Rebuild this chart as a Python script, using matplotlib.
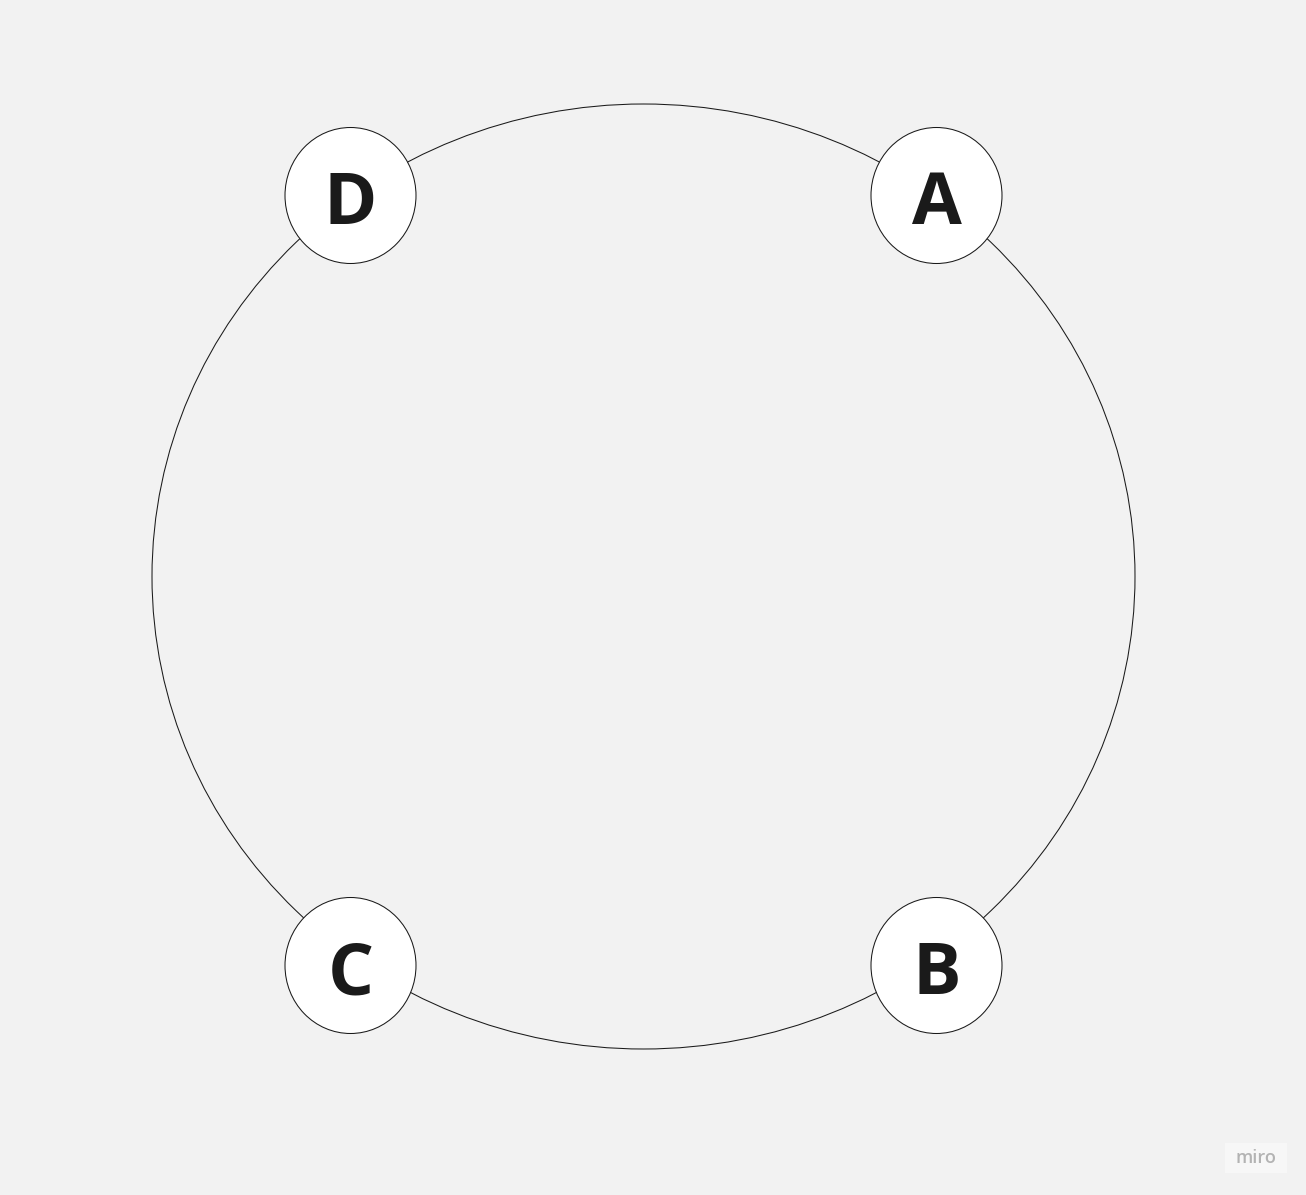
import matplotlib.pyplot as plt
from matplotlib.patches import Ellipse

# nodes sitting on the ring (pixel coordinates of the board)
labels = ['A', 'B', 'C', 'D']
node_x = [936.5, 936.5, 350.5, 350.5]
node_y = [195.5, 965.5, 965.5, 195.5]

W, H = 1306, 1195
fig = plt.figure(figsize=(W / 100, H / 100), dpi=100, facecolor='#f2f2f2')
ax = fig.add_axes([0, 0, 1, 1])
ax.set_xlim(0, W)
ax.set_ylim(H, 0)
ax.axis('off')
ax.set_facecolor('#f2f2f2')

# big ring
cx, cy = 643.5, 576.5
rx, ry = 491.5, 472.5
ax.add_patch(Ellipse((cx, cy), 2 * rx, 2 * ry, fill=False,
                     edgecolor='#1a1a1a', linewidth=0.75, zorder=1))

# node circles with bold letters
for lab, x, y in zip(labels, node_x, node_y):
    ax.add_patch(Ellipse((x, y), 131, 136, facecolor='white',
                         edgecolor='#1a1a1a', linewidth=0.75, zorder=2))
    ax.text(x, y + 28.5, lab, ha='center', va='baseline', fontsize=52,
            fontweight='bold', family=['Open Sans', 'DejaVu Sans'],
            color='#1a1a1a', zorder=3)

# watermark
ax.add_patch(plt.Rectangle((1225, 1143), 62, 30, facecolor='#f7f7f7',
                           edgecolor='none', zorder=1))
ax.text(1256, 1158, 'miro', ha='center', va='center', fontsize=13,
        family=['Open Sans', 'DejaVu Sans'], fontweight='semibold',
        color='#b3b3b3', zorder=2)

fig.savefig('out.png', dpi=100, facecolor=fig.get_facecolor())
